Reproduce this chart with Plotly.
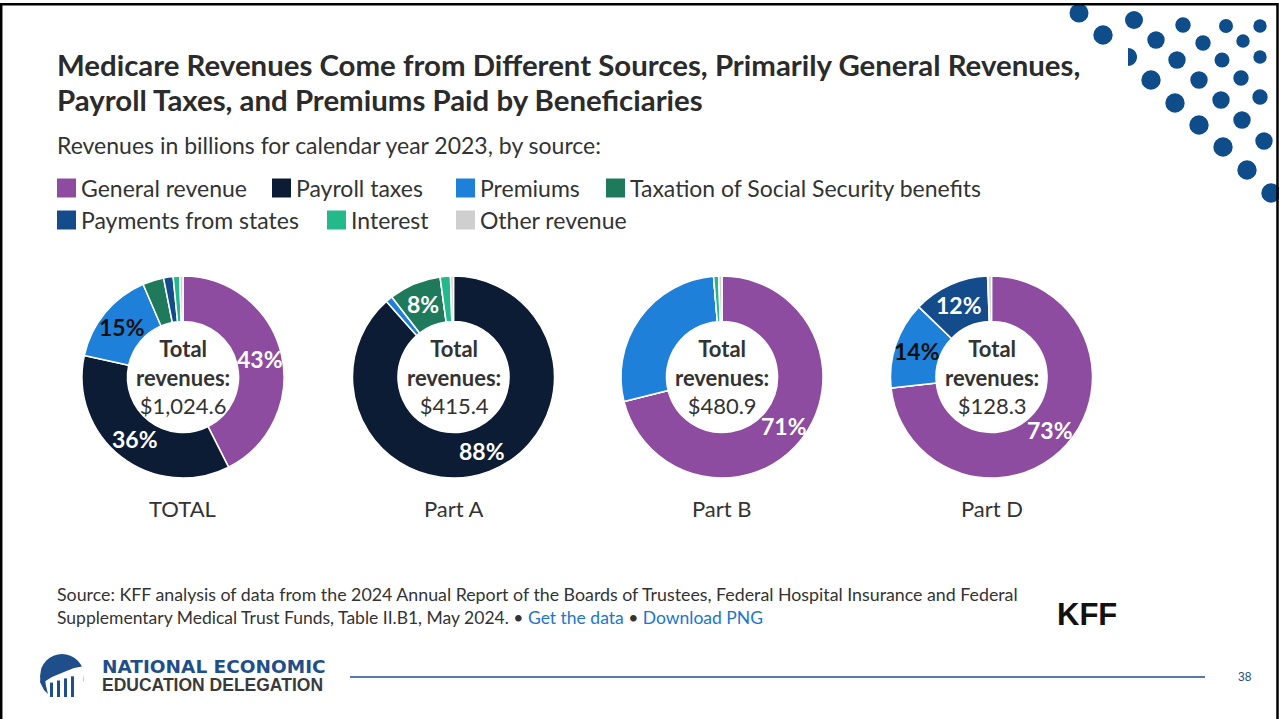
import math
import plotly.graph_objects as go

# ---- data (billions of dollars, calendar year 2023) ----
sources = ["General revenue", "Payroll taxes", "Premiums",
           "Taxation of Social Security benefits", "Payments from states",
           "Interest", "Other revenue"]
part_a = [0.0, 367.4, 4.6, 34.6, 0.0, 6.8, 2.0]
part_b = [342.0, 0.0, 132.5, 0.0, 0.0, 3.9, 2.5]
part_d = [94.0, 0.0, 17.9, 0.0, 15.6, 0.1, 0.7]
total = [a + b + d for a, b, d in zip(part_a, part_b, part_d)]

chart_names = ["TOTAL", "Part A", "Part B", "Part D"]
chart_values = [total, part_a, part_b, part_d]
# slices whose share is printed on the ring
labelled = [
    ["General revenue", "Payroll taxes", "Premiums"],
    ["Payroll taxes", "Taxation of Social Security benefits"],
    ["General revenue"],
    ["General revenue", "Premiums", "Payments from states"],
]

colors = {
    "General revenue": "#8E4CA0",
    "Payroll taxes": "#0C1C35",
    "Premiums": "#1F80DA",
    "Taxation of Social Security benefits": "#1F7A5C",
    "Payments from states": "#144B8B",
    "Interest": "#24B98B",
    "Other revenue": "#CFCFCF",
}
dark_label = {"Premiums"}

# ---- page geometry (pixels) ----
W, H = 1279, 719
FONT = "Lato"
TXT = "#333333"
NAVY = "#1F4F8A"


def px(x):
    return x / W


def py(y):
    return 1 - y / H


def path_of(points, close=True):
    s = "M " + " L ".join(f"{px(x):.5f},{py(y):.5f}" for x, y in points)
    return s + (" Z" if close else "")


def text(x, y, s, size, color=TXT, anchor="left", family=FONT):
    annotations.append(dict(
        x=px(x), y=py(y), xref="paper", yref="paper", showarrow=False,
        text=s, xanchor=anchor, yanchor="middle", align="center" if anchor == "center" else "left",
        font=dict(family=family, size=size, color=color)))


fig = go.Figure()
annotations = []
shapes = []

centers_x = [183, 453.5, 722, 991.5]
CY, R, HOLE, R_LAB = 377, 101, 0.55, 79

for name, vals, cx, shown in zip(chart_names, chart_values, centers_x, labelled):
    fig.add_trace(go.Pie(
        labels=sources, values=vals, sort=False, direction="clockwise",
        rotation=0, hole=HOLE, textinfo="none", hoverinfo="skip",
        showlegend=False,
        marker=dict(colors=[colors[s] for s in sources],
                    line=dict(color="white", width=1.5)),
        domain=dict(x=[px(cx - R), px(cx + R)], y=[py(CY + R), py(CY - R)]),
    ))
    tot = sum(vals)
    cum = 0.0
    for s, v in zip(sources, vals):
        if s in shown:
            mid = 2 * math.pi * (cum + v / 2) / tot
            lx = cx + R_LAB * math.sin(mid)
            ly = CY - R_LAB * math.cos(mid)
            text(lx, ly, f"<b>{round(100 * v / tot)}%</b>", 23,
                 "#111111" if s in dark_label else "white", anchor="center")
        cum += v
    text(cx, CY, f"<b>Total</b><br><b>revenues:</b><br>${tot:,.1f}", 22, anchor="center")
    text(cx, 508, name, 22, anchor="center")


# title and subtitle
text(55, 65, "<b>Medicare Revenues Come from Different Sources, Primarily General Revenues,</b>", 29.4, "#2B2B2B")
text(55, 99, "<b>Payroll Taxes, and Premiums Paid by Beneficiaries</b>", 29.4, "#2B2B2B")
text(55, 145, "Revenues in billions for calendar year 2023, by source:", 23)

# legend
legend_rows = [
    [(57, 0), (272, 1), (456, 2), (606, 3)],
    [(57, 4), (327, 5), (456, 6)],
]
for row_y, row in zip([188, 220], legend_rows):
    for lx, idx in row:
        shapes.append(dict(type="rect", xref="paper", yref="paper",
                           x0=px(lx), x1=px(lx + 19), y0=py(row_y + 9.5), y1=py(row_y - 9.5),
                           fillcolor=colors[sources[idx]], line=dict(width=0)))
        text(lx + 22, row_y, sources[idx], 23)

# source note
text(55, 594, "Source: KFF analysis of data from the 2024 Annual Report of the Boards of Trustees, "
              "Federal Hospital Insurance and Federal", 17.8)
text(55, 617, "Supplementary Medical Trust Funds, Table II.B1, May 2024. • "
              "<span style='color:#1B76CF'>Get the data</span> • "
              "<span style='color:#1B76CF'>Download PNG</span>", 17.5)
text(1087, 614, "<b>KFF</b>", 31, "#111111", anchor="center", family="Liberation Sans")

# footer
text(100, 666, "<b>NATIONAL ECONOMIC</b>", 18.5, NAVY, family="DejaVu Sans")
text(100, 685, "<b>EDUCATION DELEGATION</b>", 17.5, "#3A3A3A", family="Liberation Sans")
text(1245, 677, "38", 12, NAVY, anchor="center", family="Liberation Sans")
shapes.append(dict(type="line", xref="paper", yref="paper",
                   x0=px(350), x1=px(1205), y0=py(677), y1=py(677),
                   line=dict(color=NAVY, width=1.3)))

# emblem of the footer logo
LX, LY, LR = 62, 676, 22
shapes.append(dict(type="circle", xref="paper", yref="paper",
                   x0=px(LX - LR), x1=px(LX + LR), y0=py(LY + LR), y1=py(LY - LR),
                   fillcolor=NAVY, line=dict(width=0)))
swoosh = [(LX - 23, LY + 9), (LX - 10, LY + 1), (LX + 2, LY - 4), (LX + 12, LY - 8), (LX + 23, LY - 10)]
arc_pts = []
for k in range(0, 37):
    a = math.radians(-25 - k * 5)
    arc_pts.append((LX + (LR + 1) * math.cos(a), LY - (LR + 1) * math.sin(a)))
shapes.append(dict(type="path", xref="paper", yref="paper",
                   path=path_of(swoosh + arc_pts), fillcolor="white", line=dict(width=0)))
for cxp in [LX - 12, LX - 5, LX + 2, LX + 9]:
    top = LY + 3 - (cxp - LX) * 0.3
    shapes.append(dict(type="rect", xref="paper", yref="paper",
                       x0=px(cxp), x1=px(cxp + 3), y0=py(LY + 21), y1=py(top),
                       fillcolor=NAVY, line=dict(width=0)))
shapes.append(dict(type="path", xref="paper", yref="paper",
                   path=path_of([(LX - 20, LY - 2), (LX - 22, LY + 6), (LX - 18, LY + 14),
                                 (LX - 14, LY + 18), (LX - 16, LY + 10), (LX - 17, LY + 3)]),
                   fillcolor=NAVY, line=dict(width=0)))

# dotted ornament in the top-right corner
DOT = "#0E4C8A"
dots = [
    (1079, 13, 9.5), (1103, 35, 9.7), (1134, 20, 9), (1156, 40, 8.7),
    (1183, 25, 7.7), (1203, 43, 7.7), (1226, 26, 7), (1260, 26, 6.7),
    (1243, 41, 6.7), (1260, 57, 6.7), (1177, 60, 8.7), (1222, 60, 7.5),
    (1151, 80, 9.7), (1199, 80, 8.7), (1241, 78, 7.7), (1175, 103, 9.7),
    (1221, 100, 8.7), (1260, 97, 7.7), (1199, 125, 9.7), (1242, 120, 8.7),
    (1223, 147, 9.7), (1264, 141, 8.7), (1247, 170, 9.7), (1271, 193, 9.7),
]
for x, y, r in dots:
    shapes.append(dict(type="circle", xref="paper", yref="paper",
                       x0=px(x - r), x1=px(x + r), y0=py(y + r), y1=py(y - r),
                       fillcolor=DOT, line=dict(width=0)))
half = [(1128 + 9 * math.sin(math.radians(a)), 57 - 9 * math.cos(math.radians(a)))
        for a in range(0, 181, 10)]
shapes.append(dict(type="path", xref="paper", yref="paper",
                   path=path_of(half), fillcolor=DOT, line=dict(width=0)))

# slide frame
shapes.append(dict(type="rect", xref="paper", yref="paper",
                   x0=px(1.2), x1=px(1277.5), y0=py(730), y1=py(4.2),
                   line=dict(color="#000000", width=2.5), fillcolor="rgba(0,0,0,0)"))

fig.update_layout(
    width=W, height=H, margin=dict(l=0, r=0, t=0, b=0),
    paper_bgcolor="white", plot_bgcolor="white",
    annotations=annotations, shapes=shapes, showlegend=False,
)
fig.write_html("out.html", config={"displayModeBar": False})
